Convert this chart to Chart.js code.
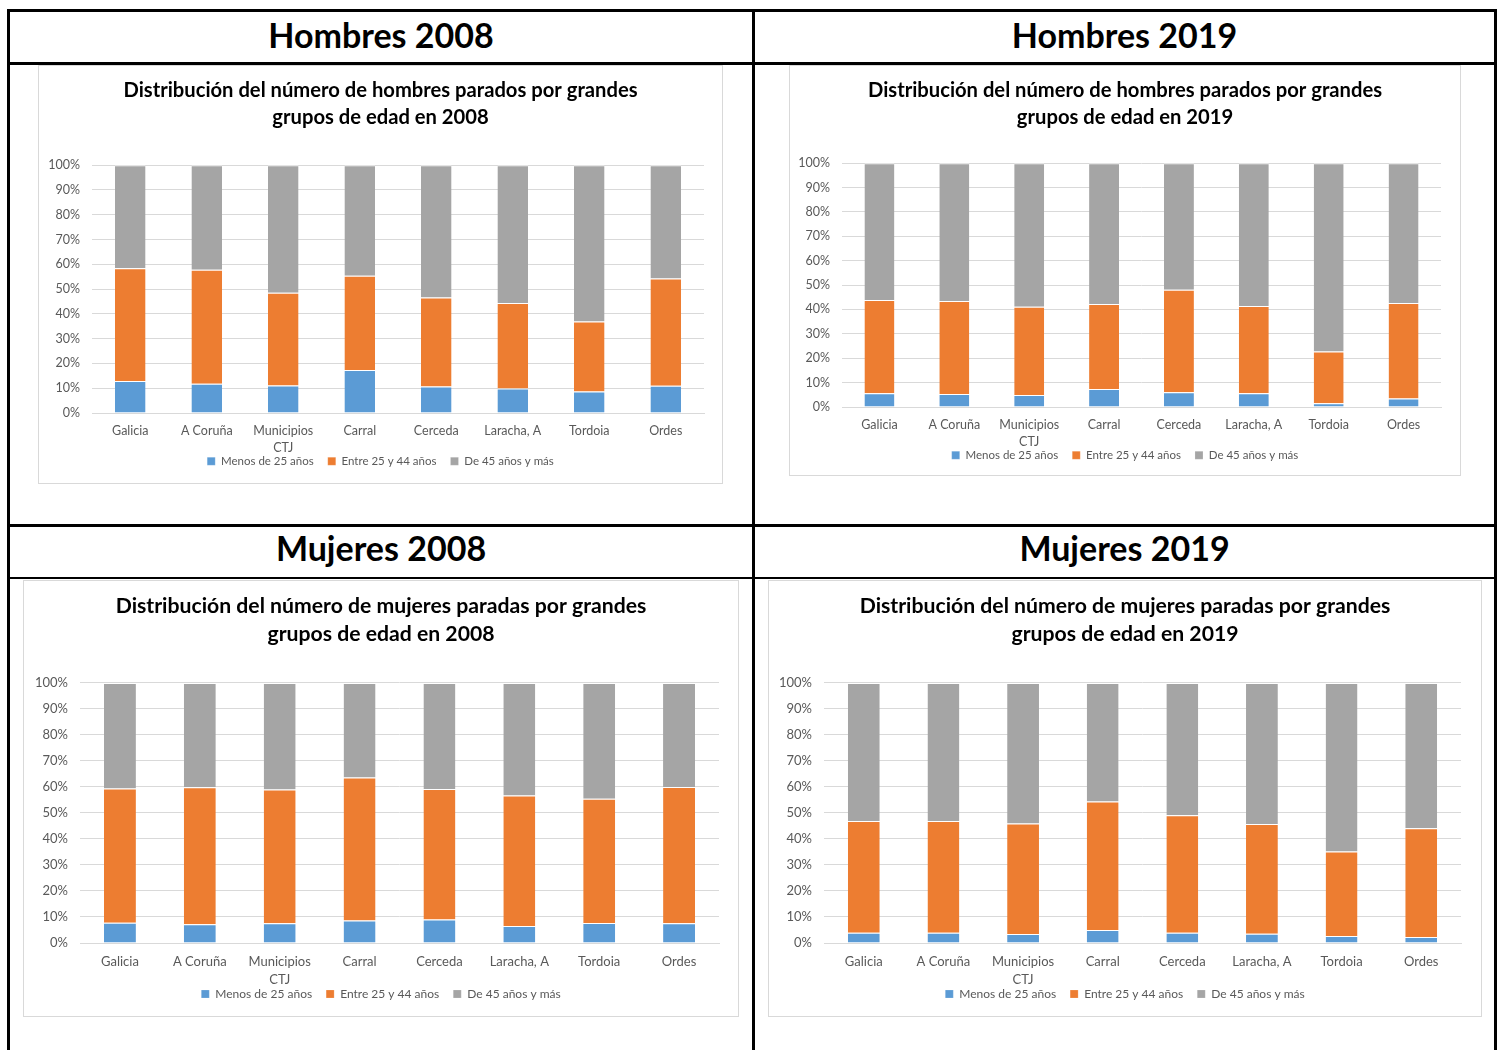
<!DOCTYPE html>
<html>
<head>
<meta charset="utf-8">
<script src="https://cdn.jsdelivr.net/npm/chart.js@4.4.1/dist/chart.umd.min.js"></script>
<style>
  body { margin: 0; background: #fff; font-family: Lato, sans-serif; }
  .line { position: absolute; background: #000; }
  .head { position: absolute; text-align: center; font-weight: bold; font-size: 34px; color: #000; line-height: 48px; }
  .box { position: absolute; border: 1px solid #d9d9d9; background: #fff; box-sizing: border-box; }
</style>
</head>
<body>
<!-- table lines -->
<div class="line" style="left:7px;top:9px;width:1490px;height:3px"></div>
<div class="line" style="left:7px;top:9px;width:3px;height:1041px"></div>
<div class="line" style="left:1494px;top:9px;width:3px;height:1041px"></div>
<div class="line" style="left:752px;top:9px;width:3px;height:1041px"></div>
<div class="line" style="left:7px;top:62px;width:1490px;height:3px"></div>
<div class="line" style="left:7px;top:524px;width:1490px;height:3px"></div>
<div class="line" style="left:7px;top:577px;width:1490px;height:2px"></div>

<div class="head" style="left:10px;top:11px;width:742px">Hombres 2008</div>
<div class="head" style="left:755px;top:11px;width:739px">Hombres 2019</div>
<div class="head" style="left:10px;top:524px;width:742px">Mujeres 2008</div>
<div class="head" style="left:755px;top:524px;width:739px">Mujeres 2019</div>

<div class="box" style="left:38px;top:65px;width:685px;height:419px"><canvas id="c1"></canvas></div>
<div class="box" style="left:789px;top:65px;width:672px;height:411px"><canvas id="c2"></canvas></div>
<div class="box" style="left:23px;top:580px;width:716px;height:437px"><canvas id="c3"></canvas></div>
<div class="box" style="left:768px;top:580px;width:714px;height:437px"><canvas id="c4"></canvas></div>

<script>
// categorias y series (porcentajes)
const municipios = ['Galicia', 'A Coruña', ['Municipios', 'CTJ'], 'Carral', 'Cerceda', 'Laracha, A', 'Tordoia', 'Ordes'];
const grupos = ['Menos de 25 años', 'Entre 25 y 44 años', 'De 45 años y más'];
const colores = ['#5b9bd5', '#ed7d31', '#a5a5a5'];
const yTicks = [0, 10, 20, 30, 40, 50, 60, 70, 80, 90, 100];

const hombres2008Menos25 = [12.9, 11.8, 11.1, 17.3, 10.7, 9.9, 8.7, 11.0];
const hombres2008Entre25y44 = [45.5, 46.0, 37.4, 38.1, 35.9, 34.5, 28.2, 43.3];
const hombres2008Mas45 = [41.6, 42.2, 51.5, 44.6, 53.4, 55.6, 63.1, 45.7];

const hombres2019Menos25 = [5.6, 5.3, 4.9, 7.4, 6.0, 5.6, 1.5, 3.5];
const hombres2019Entre25y44 = [38.3, 38.2, 36.2, 34.8, 42.1, 35.8, 21.3, 39.1];
const hombres2019Mas45 = [56.1, 56.5, 58.9, 57.8, 51.9, 58.6, 77.2, 57.4];

const mujeres2008Menos25 = [7.8, 7.2, 7.6, 8.7, 9.0, 6.5, 7.7, 7.6];
const mujeres2008Entre25y44 = [51.6, 52.7, 51.4, 54.9, 50.2, 50.2, 47.8, 52.4];
const mujeres2008Mas45 = [40.6, 40.1, 41.0, 36.4, 40.8, 43.3, 44.5, 40.0];

const mujeres2019Menos25 = [3.9, 3.9, 3.5, 5.0, 3.9, 3.6, 2.7, 2.3];
const mujeres2019Entre25y44 = [43.0, 43.0, 42.5, 49.4, 45.2, 42.2, 32.5, 41.8];
const mujeres2019Mas45 = [53.1, 53.1, 54.0, 45.6, 50.9, 54.2, 64.8, 55.9];

Chart.defaults.font.family = 'Lato, sans-serif';
Chart.defaults.color = '#595959';

// las etiquetas se salen de la caja del eje: no recortarlas
function sinRecorte() { return null; }

function crearGrafico(id, titulo, series, lay) {
    const ctx = document.getElementById(id);
    new Chart(ctx, {
        type: 'bar',
        data: {
            labels: municipios,
            datasets: series.map(function (valores, i) {
                return {
                    label: grupos[i],
                    data: valores,
                    backgroundColor: colores[i],
                    borderColor: 'rgba(255,255,255,0.7)',
                    borderWidth: { top: 1, left: 0, right: 0, bottom: 0 },
                    borderSkipped: false,
                    barPercentage: 0.4,
                    categoryPercentage: 1
                };
            })
        },
        options: {
            responsive: true,
            maintainAspectRatio: false,
            animation: false,
            // mismo margen a ambos lados para que titulo y leyenda queden centrados
            layout: { padding: { left: lay.side, right: lay.side, top: 0, bottom: lay.bottom } },
            scales: {
                x: {
                    stacked: true,
                    grid: { display: false, drawTicks: false },
                    border: { color: '#d9d9d9' },
                    ticks: { padding: 10, maxRotation: 0, autoSkip: false, font: { size: lay.font, lineHeight: 1.35 } },
                    afterFit: function (axis) {
                        axis.height = lay.xHeight;
                        axis._computeLabelArea = sinRecorte;
                    }
                },
                y: {
                    stacked: true,
                    min: 0,
                    max: 100,
                    grid: { color: '#d9d9d9', drawTicks: false },
                    border: { display: false },
                    afterBuildTicks: function (axis) { axis.ticks = yTicks.map(function (v) { return { value: v }; }); },
                    ticks: { padding: 12, font: { size: lay.font }, callback: function (v) { return v + '%'; } },
                    afterFit: function (axis) {
                        axis.width = lay.plotLeft - lay.side;
                        axis._computeLabelArea = sinRecorte;
                    }
                }
            },
            plugins: {
                title: {
                    display: true,
                    text: titulo,
                    color: '#000',
                    font: { size: lay.titleSize, weight: 'bold', lineHeight: lay.titleLine },
                    padding: { top: lay.titleTop, bottom: lay.titleBottom }
                },
                legend: {
                    position: 'bottom',
                    labels: { boxWidth: 8, boxHeight: 8, padding: 14, font: { size: lay.legendFont } }
                },
                tooltip: { enabled: false }
            }
        }
    });
}

crearGrafico('c1',
    ['Distribución del número de hombres parados por grandes', 'grupos de edad en 2008'],
    [hombres2008Menos25, hombres2008Entre25y44, hombres2008Mas45],
    { side: 18, bottom: 6, xHeight: 28.5, plotLeft: 53, font: 12.5, legendFont: 11.5, titleSize: 20.2, titleLine: 1.34, titleTop: 11, titleBottom: 34 });

crearGrafico('c2',
    ['Distribución del número de hombres parados por grandes', 'grupos de edad en 2019'],
    [hombres2019Menos25, hombres2019Entre25y44, hombres2019Mas45],
    { side: 19, bottom: 4, xHeight: 28.5, plotLeft: 52, font: 12.5, legendFont: 11.5, titleSize: 20.2, titleLine: 1.34, titleTop: 11, titleBottom: 32 });

crearGrafico('c3',
    ['Distribución del número de mujeres paradas por grandes', 'grupos de edad en 2008'],
    [mujeres2008Menos25, mujeres2008Entre25y44, mujeres2008Mas45],
    { side: 19, bottom: 6, xHeight: 31, plotLeft: 56, font: 13, legendFont: 12, titleSize: 21.2, titleLine: 1.32, titleTop: 11, titleBottom: 35 });

crearGrafico('c4',
    ['Distribución del número de mujeres paradas por grandes', 'grupos de edad en 2019'],
    [mujeres2019Menos25, mujeres2019Entre25y44, mujeres2019Mas45],
    { side: 20, bottom: 6, xHeight: 31, plotLeft: 55, font: 13, legendFont: 12, titleSize: 21.2, titleLine: 1.32, titleTop: 11, titleBottom: 35 });
</script>
</body>
</html>
